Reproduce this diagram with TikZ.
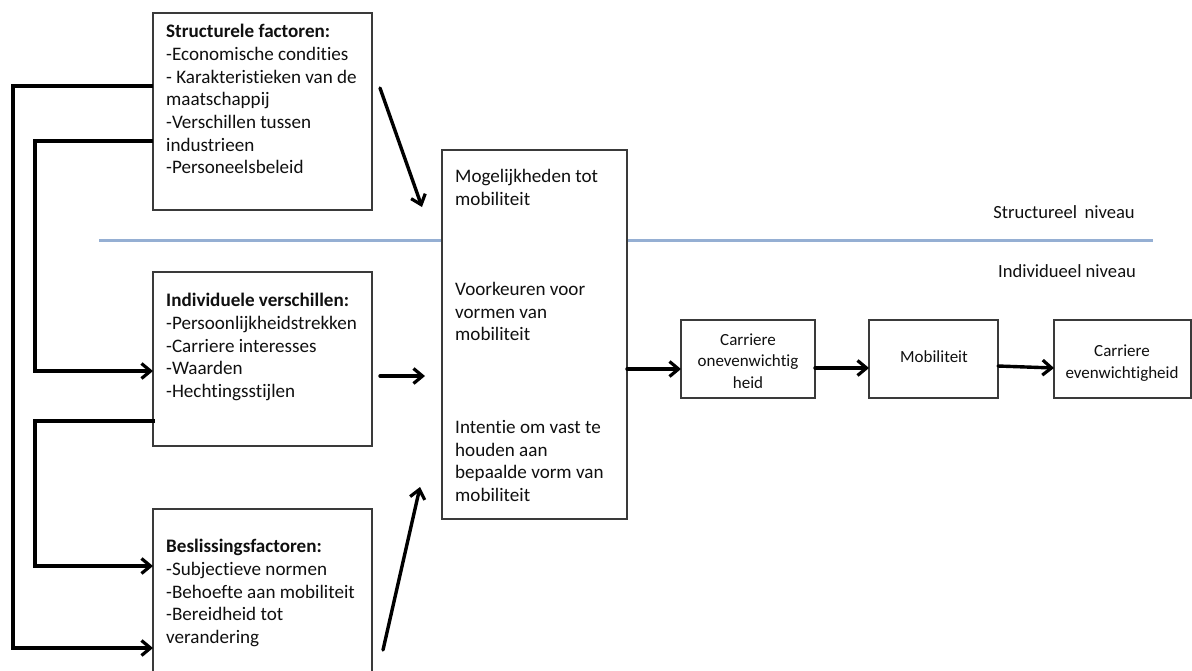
\documentclass[tikz,border=0pt]{standalone}
\usepackage{fontspec}
\setmainfont{Carlito}[RawFeature=-liga]
\usetikzlibrary{arrows.meta}
\definecolor{boxline}{HTML}{3A3A3A}
\definecolor{levelline}{HTML}{95AFD3}
\definecolor{ink}{HTML}{101010}
\tikzset{
  box/.style={draw=boxline, line width=1.4pt, fill=white, inner sep=0pt, outer sep=0pt, anchor=north west},
  txt/.style={inner sep=0pt, anchor=north west, align=left, text=ink,
              font=\fontsize{19.1}{22.7}\selectfont},
  smalltxt/.style={inner sep=0pt, align=center, text=ink,
              font=\fontsize{17}{21.3}\selectfont},
  flow/.style={line width=3.4pt, -{Straight Barb[length=9pt,width=15pt,line width=3.2pt]}, line cap=round},
  feedback/.style={flow, line cap=butt, line join=miter},
  level/.style={draw=levelline, line width=3pt}
}
\begin{document}
\begin{tikzpicture}[x=1pt, y=-1pt]
\useasboundingbox (0,0) rectangle (1192,670);
\clip (0,0) rectangle (1192,670);

% level separator
\coordinate (lvlL) at (99,240);
\coordinate (lvlR) at (1153,240);
\draw[level] (lvlL) -- (lvlR);
\node[smalltxt, font=\fontsize{18.6}{22.7}\selectfont] (lvlS) at (1064,212) {Structureel\, niveau};
\node[smalltxt, font=\fontsize{18.6}{22.7}\selectfont] (lvlI) at (1067,271) {Individueel niveau};

% left-hand factor boxes
\node[box, minimum width=219pt, minimum height=197pt] (sf) at (153,13) {};
\node[txt] (sftxt) at (166,24) {\textbf{Structurele factoren:}\\-Economische condities\\- Karakteristieken van de\\maatschappij\\-Verschillen tussen\\industrieen\\-Personeelsbeleid};

\node[box, minimum width=219pt, minimum height=174pt] (iv) at (153,272) {};
\node[txt] (ivtxt) at (166,293) {\textbf{Individuele verschillen:}\\-Persoonlijkheidstrekken\\-Carriere interesses\\-Waarden\\-Hechtingsstijlen};

\node[box, minimum width=219pt, minimum height=170pt] (bf) at (153,509) {};
\node[txt] (bftxt) at (166,539) {\textbf{Beslissingsfactoren:}\\-Subjectieve normen\\-Behoefte aan mobiliteit\\-Bereidheid tot\\verandering};

% central box
\node[box, minimum width=185pt, minimum height=369pt] (mid) at (442,150) {};
\node[txt] (midA) at (455,169) {Mogelijkheden tot\\mobiliteit};
\node[txt] (midB) at (455,282) {Voorkeuren voor\\vormen van\\mobiliteit};
\node[txt] (midC) at (455,420) {Intentie om vast te\\houden aan\\bepaalde vorm van\\mobiliteit};

% outcome chain
\node[box, minimum width=134pt, minimum height=78pt] (co) at (681,320) {};
\node[smalltxt] (cotxt) at (748,361) {Carriere\\onevenwichtig\\heid};
\node[box, minimum width=129pt, minimum height=78pt] (mo) at (869,320) {};
\node[smalltxt] (motxt) at (934,357) {Mobiliteit};
\node[box, minimum width=137pt, minimum height=78pt] (ce) at (1054,320) {};
\node[smalltxt] (cetxt) at (1122,363) {Carriere\\evenwichtigheid};

% attachment points of the feedback lines
\coordinate (railA) at (13,0);
\coordinate (railB) at (35,0);
\coordinate (sfA) at ([yshift=25.5pt]sf.west);
\coordinate (sfB) at ([yshift=-29.5pt]sf.west);
\coordinate (ivA) at ([yshift=-12pt]iv.west);
\coordinate (ivB) at ([xshift=2pt,yshift=-62pt]iv.west);
\coordinate (bfA) at ([yshift=28pt]bf.west);
\coordinate (bfB) at ([yshift=-54pt]bf.west);

\draw[feedback] (sfA) -- (railA |- sfA) -- (railA |- bfB) -- (bfB);
\draw[feedback] (sfB) -- (railB |- sfB) -- (railB |- ivA) -- (ivA);
\draw[feedback] (ivB) -- (railB |- ivB) -- (railB |- bfA) -- (bfA);

% factors into the central box
\draw[flow] ([xshift=8pt,yshift=23.5pt]sf.east) -- ([xshift=-20pt,yshift=-57pt]mid.north west);
\draw[flow] ([xshift=8pt,yshift=-17pt]iv.east) -- ([xshift=-17pt,yshift=-41.5pt]mid.west);
\draw[flow] ([xshift=11pt,yshift=-56pt]bf.east) -- ([xshift=-22pt,yshift=32pt]mid.south west);

% central box into the outcome chain
\draw[flow] ([yshift=-34.5pt]mid.east) -- ([yshift=-10pt]co.west);
\draw[flow] ([yshift=-9pt]co.east) -- ([yshift=-9pt]mo.west);
\draw[flow] ([yshift=-7pt]mo.east) -- ([yshift=-9pt]ce.west);
\end{tikzpicture}
\end{document}
